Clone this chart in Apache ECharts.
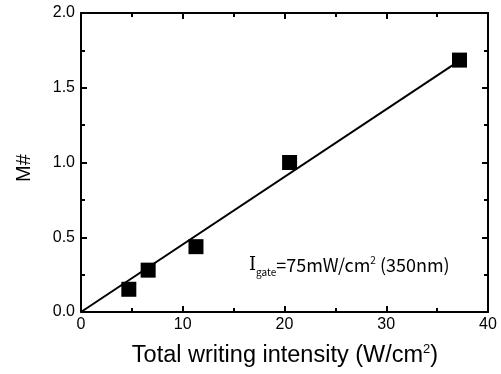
<!DOCTYPE html>
<html><head><meta charset="utf-8">
<script src="https://cdn.jsdelivr.net/npm/echarts@6/dist/echarts.min.js"></script>
<style>html,body{margin:0;padding:0;background:#fff}#c{width:501px;height:374px}</style>
</head><body><div id="c"></div>
<script>
const xValues = [4.7, 6.6, 11.3, 20.5, 37.2];
const mValues = [0.152, 0.28, 0.437, 1.0, 1.685];
const fitX = [0, 37.5];
const fitY = [0, 1.695];
const xTicks = [0, 10, 20, 30, 40];
const yTicks = [0.0, 0.5, 1.0, 1.5, 2.0];

const chart = echarts.init(document.getElementById('c'));
const axisCommon = {
  axisLine: {show: true, onZero: false, lineStyle: {color: '#000', width: 2}},
  axisTick: {show: true, inside: true, length: 6, lineStyle: {color: '#000', width: 2}},
  minorTick: {show: true, splitNumber: 2, length: 4, lineStyle: {color: '#000', width: 2}},
  splitLine: {show: false}
};
chart.setOption({
  animation: false,
  grid: {left: 81, right: 13, top: 13, bottom: 62},
  xAxis: [
    Object.assign({type: 'value', min: xTicks[0], max: xTicks[xTicks.length-1], interval: 10, position: 'bottom',
      axisLabel: {fontFamily: 'Liberation Sans', fontSize: 16, color: '#000', margin: 5}}, axisCommon),
    Object.assign({type: 'value', min: 0, max: 40, interval: 10, position: 'top', axisLabel: {show: false}}, axisCommon)
  ],
  yAxis: [
    Object.assign({type: 'value', min: yTicks[0], max: yTicks[yTicks.length-1], interval: 0.5, position: 'left',
      axisLabel: {fontFamily: 'Liberation Sans', fontSize: 16, color: '#000', margin: 6,
        formatter: v => v.toFixed(1)}}, axisCommon),
    Object.assign({type: 'value', min: 0, max: 2, interval: 0.5, position: 'right', axisLabel: {show: false}}, axisCommon)
  ],
  series: [
    {type: 'line', data: fitX.map((x, i) => [x, fitY[i]]), symbol: 'none',
      lineStyle: {color: '#000', width: 2}, z: 2},
    {type: 'scatter', data: xValues.map((x, i) => [x, mValues[i]]), symbol: 'rect', symbolSize: 15,
      itemStyle: {color: '#000', opacity: 1}, z: 3}
  ],
  graphic: [
    {type: 'text', x: 285, y: 356,
      style: {text: '{n|Total writing intensity (W/cm}{sup|2}{n|)}', align: 'center', verticalAlign: 'middle',
        rich: {n: {fontFamily: 'Liberation Sans', fontSize: 23.5, fill: '#000'},
               sup: {fontFamily: 'Liberation Sans', fontSize: 13, fill: '#000', padding: [0,0,13,0]}}}},
    {type: 'text', x: 24, y: 168, rotation: Math.PI / 2,
      style: {text: 'M#', align: 'center', verticalAlign: 'middle',
        fontFamily: 'Liberation Sans', fontSize: 20, fill: '#000'}},
    {type: 'text', left: 249, top: 255,
      style: {
        text: '{i|I}{sub|gate}{n|=75mW/cm}{sup|2}{n| (350nm)}',
        rich: {
          i: {fontFamily: 'DejaVu Serif', fontSize: 18, fill: '#000'},
          sub: {fontFamily: 'Noto Sans CJK JP', fontSize: 10, fill: '#000', padding: [13,0,0,0]},
          n: {fontFamily: 'Noto Sans CJK JP', fontSize: 18, fill: '#000'},
          sup: {fontFamily: 'Noto Sans CJK JP', fontSize: 10, fill: '#000', padding: [0,0,11,0]}
        }
      }
    }
  ]
});
</script></body></html>
